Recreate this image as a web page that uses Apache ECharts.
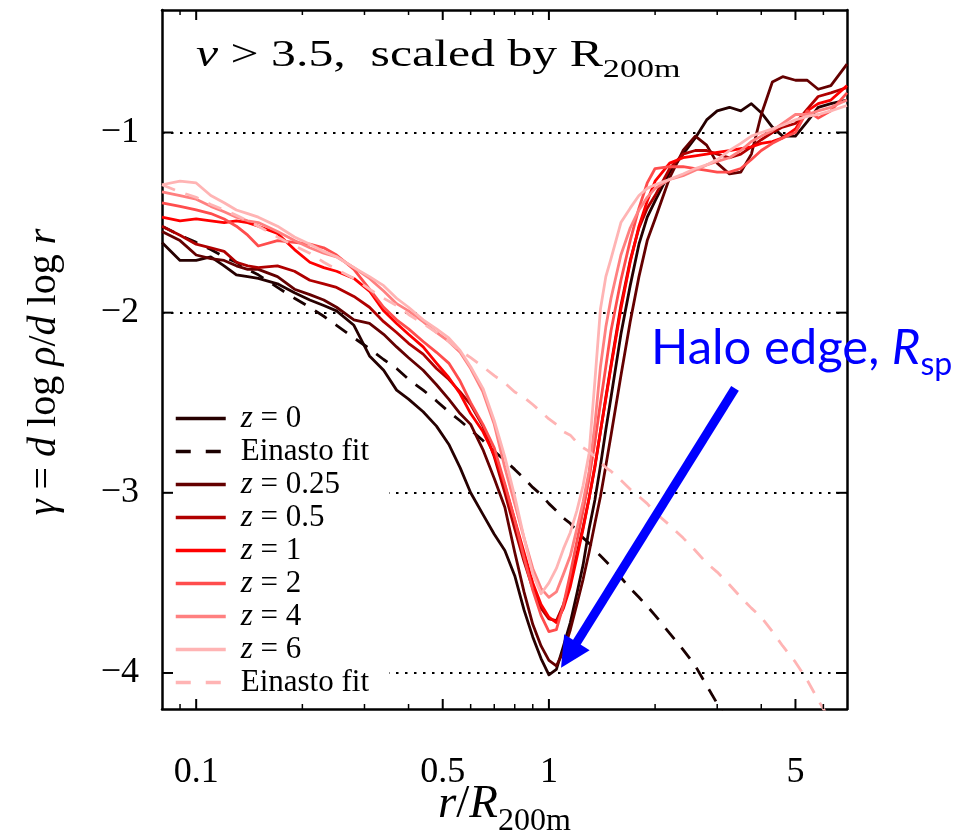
<!DOCTYPE html>
<html><head><meta charset="utf-8">
<script src="https://cdn.jsdelivr.net/npm/echarts@6/dist/echarts.min.js"></script>
<style>html,body{margin:0;padding:0;background:#fff}#c{width:961px;height:837px}</style>
</head><body><div id="c"></div>
<script>
// ---------- data ----------
const radius = [0.08,0.09,0.1,0.11,0.12,0.13,0.14,0.15,
 0.17,0.19,0.21,0.23,0.25,
 0.28,0.31,0.34,0.37,0.4,
 0.44,0.48,0.52,0.56,0.6,
 0.65,0.7,0.75,0.8,0.85,
 0.9,0.95,1.0,1.05,1.1,
 1.15,1.2,1.25,1.3,1.35,
 1.4,1.45,1.5,1.6,1.7,
 1.8,1.9,2.0,2.2,2.4,
 2.6,2.8,3.0,3.25,3.5,
 3.75,4.0,4.3,4.6,5.0,
 5.4,5.8,6.3,7.0];

const gammaZ0 = [-1.61,-1.71,-1.71,-1.69,-1.74,-1.79,-1.80,-1.81,
 -1.84,-1.89,-1.93,-1.96,-1.99,
 -2.07,-2.24,-2.32,-2.43,-2.48,
 -2.55,-2.63,-2.73,-2.86,-3.00,
 -3.12,-3.23,-3.32,-3.46,-3.65,
 -3.80,-3.92,-4.01,-3.98,-3.85,
 -3.72,-3.56,-3.40,-3.20,-3.04,
 -2.85,-2.65,-2.47,-2.12,-1.85,
 -1.62,-1.47,-1.38,-1.22,-1.12,
 -1.03,-0.93,-0.88,-0.86,-0.88,
 -0.84,-0.89,-0.97,-1.02,-1.02,
 -0.94,-0.86,-0.84,-0.82];

const einastoZ0 = [-1.52,-1.57,-1.61,-1.65,-1.69,-1.72,-1.76,-1.79,
 -1.86,-1.92,-1.97,-2.02,-2.07,
 -2.14,-2.20,-2.26,-2.31,-2.37,
 -2.43,-2.49,-2.55,-2.60,-2.65,
 -2.71,-2.77,-2.82,-2.87,-2.92,
 -2.97,-3.01,-3.06,-3.10,-3.14,
 -3.17,-3.21,-3.25,-3.28,-3.32,
 -3.35,-3.38,-3.41,-3.47,-3.53,
 -3.58,-3.63,-3.68,-3.78,-3.87,
 -3.96,-4.07,-4.17,-4.29,null,
 null,null,null,null,null,
 null,null,null,null];

const gammaZ025 = [-1.55,-1.60,-1.68,-1.70,-1.71,-1.74,-1.76,-1.76,
 -1.80,-1.87,-1.90,-1.93,-1.97,
 -2.04,-2.06,-2.12,-2.19,-2.25,
 -2.32,-2.40,-2.48,-2.56,-2.62,
 -2.76,-2.92,-3.08,-3.33,-3.55,
 -3.73,-3.85,-3.93,-3.96,-3.88,
 -3.76,-3.62,-3.48,-3.33,-3.17,
 -3.02,-2.85,-2.68,-2.35,-2.05,
 -1.80,-1.60,-1.48,-1.25,-1.10,
 -1.02,-1.07,-1.17,-1.23,-1.22,
 -1.12,-0.90,-0.72,-0.69,-0.71,
 -0.71,-0.76,-0.74,-0.62];

const gammaZ05 = [-1.52,-1.57,-1.62,-1.64,-1.66,-1.72,-1.74,-1.75,
 -1.74,-1.77,-1.82,-1.84,-1.86,
 -1.91,-1.97,-2.05,-2.11,-2.17,
 -2.23,-2.31,-2.37,-2.44,-2.51,
 -2.63,-2.80,-3.00,-3.20,-3.38,
 -3.53,-3.64,-3.70,-3.71,-3.62,
 -3.49,-3.34,-3.19,-3.03,-2.86,
 -2.66,-2.47,-2.29,-1.96,-1.71,
 -1.53,-1.42,-1.35,-1.20,-1.12,
 -1.10,-1.10,-1.12,-1.14,-1.12,
 -1.08,-1.04,-1.00,-0.97,-0.95,
 -0.87,-0.80,-0.78,-0.75];

const gammaZ1 = [-1.47,-1.49,-1.48,-1.49,-1.50,-1.49,-1.50,-1.52,
 -1.56,-1.65,-1.72,-1.75,-1.77,
 -1.81,-1.88,-1.99,-2.06,-2.12,
 -2.19,-2.28,-2.36,-2.45,-2.56,
 -2.66,-2.79,-2.96,-3.15,-3.33,
 -3.50,-3.62,-3.69,-3.72,-3.64,
 -3.52,-3.36,-3.20,-3.03,-2.85,
 -2.66,-2.48,-2.30,-1.98,-1.72,
 -1.52,-1.38,-1.27,-1.17,-1.14,
 -1.13,-1.12,-1.11,-1.10,-1.09,
 -1.08,-1.06,-1.05,-1.03,-0.98,
 -0.88,-0.84,-0.82,-0.74];

const gammaZ2 = [-1.39,-1.41,-1.43,-1.45,-1.48,-1.52,-1.57,-1.63,
 -1.60,-1.61,-1.62,-1.64,-1.68,
 -1.76,-1.87,-1.97,-2.04,-2.09,
 -2.16,-2.22,-2.28,-2.38,-2.50,
 -2.62,-2.75,-2.95,-3.15,-3.36,
 -3.54,-3.68,-3.77,-3.76,-3.62,
 -3.45,-3.27,-3.10,-2.92,-2.72,
 -2.50,-2.30,-2.10,-1.82,-1.60,
 -1.42,-1.28,-1.20,-1.19,-1.19,
 -1.20,-1.21,-1.22,-1.22,-1.20,
 -1.15,-1.10,-1.06,-1.03,-1.00,
 -0.88,-0.92,-0.88,-0.78];

const gammaZ4 = [-1.33,-1.35,-1.37,-1.41,-1.44,-1.47,-1.49,-1.50,
 -1.55,-1.60,-1.64,-1.67,-1.69,
 -1.75,-1.81,-1.88,-1.95,-1.99,
 -2.05,-2.11,-2.16,-2.22,-2.31,
 -2.44,-2.62,-2.86,-3.06,-3.25,
 -3.42,-3.53,-3.58,-3.55,-3.45,
 -3.35,-3.20,-3.05,-2.88,-2.62,
 -2.30,-2.08,-1.92,-1.68,-1.53,
 -1.43,-1.36,-1.31,-1.26,-1.24,
 -1.21,-1.18,-1.16,-1.14,-1.10,
 -1.05,-1.02,-0.99,-0.95,-0.90,
 -0.90,-0.88,-0.86,-0.82];

const gammaZ6 = [-1.29,-1.27,-1.28,-1.35,-1.39,-1.43,-1.45,-1.47,
 -1.52,-1.58,-1.62,-1.66,-1.69,
 -1.75,-1.80,-1.85,-1.92,-1.97,
 -2.04,-2.09,-2.14,-2.21,-2.30,
 -2.42,-2.60,-2.80,-3.02,-3.25,
 -3.45,-3.56,-3.50,-3.42,-3.31,
 -3.22,-3.10,-2.96,-2.78,-2.38,
 -1.98,-1.80,-1.70,-1.50,-1.42,
 -1.35,-1.31,-1.29,-1.26,-1.23,
 -1.20,-1.18,-1.15,-1.10,-1.06,
 -1.02,-1.00,-0.98,-0.96,-0.93,
 -0.91,-0.90,-0.88,-0.85];

const einastoZ6 = [-1.29,-1.33,-1.36,-1.40,-1.43,-1.46,-1.49,-1.52,
 -1.58,-1.63,-1.67,-1.72,-1.76,
 -1.81,-1.87,-1.92,-1.96,-2.01,
 -2.06,-2.11,-2.16,-2.21,-2.25,
 -2.30,-2.35,-2.39,-2.44,-2.47,
 -2.51,-2.55,-2.59,-2.62,-2.66,
 -2.68,-2.72,-2.75,-2.77,-2.80,
 -2.83,-2.86,-2.88,-2.93,-2.98,
 -3.02,-3.06,-3.11,-3.18,-3.25,
 -3.32,-3.39,-3.44,-3.51,-3.58,
 -3.64,-3.69,-3.77,-3.85,-3.94,
 -4.04,-4.15,-4.27,-4.42];

const xRange = [0.08, 7];
const yRange = [-4.2, -0.32];
const xMajorTicks = [0.1, 0.5, 1, 5];
const xTickLabels = ['0.1', '0.5', '1', '5'];
const xMinorTicks = [0.09, 0.2, 0.3, 0.4, 0.6, 0.7, 0.8, 0.9, 2, 3, 4, 6];
const yTicks = [-4, -3, -2, -1];
const yTickLabels = ['\u22124', '\u22123', '\u22122', '\u22121'];
const arrowFrom = [3.37, -2.42];
const arrowTo = [1.14, -3.90];

// ---------- styling ----------
const SERIF = 'Liberation Serif';
const seriesDefs = [
  {name: 'z0',   label: '{i|z} = 0',    values: gammaZ0,   color: '#260000'},
  {name: 'fit0', label: 'Einasto fit',  values: einastoZ0, color: '#1a0000', dash: [14, 11]},
  {name: 'z025', label: '{i|z} = 0.25', values: gammaZ025, color: '#640000'},
  {name: 'z05',  label: '{i|z} = 0.5',  values: gammaZ05,  color: '#b00000'},
  {name: 'z1',   label: '{i|z} = 1',    values: gammaZ1,   color: '#ff0000'},
  {name: 'z2',   label: '{i|z} = 2',    values: gammaZ2,   color: '#ff4d4d'},
  {name: 'z4',   label: '{i|z} = 4',    values: gammaZ4,   color: '#ff8080'},
  {name: 'z6',   label: '{i|z} = 6',    values: gammaZ6,   color: '#ffb4b4'},
  {name: 'fit6', label: 'Einasto fit',  values: einastoZ6, color: '#ffb4b4', dash: [14, 11]}
];
const labelOf = {};
seriesDefs.forEach(s => { labelOf[s.name] = s.label; });

const lg = Math.log10;
function pick(list, labels, v) {
  let best = 0, d = Infinity;
  list.forEach((t, i) => { const dd = Math.abs(t - v); if (dd < d) { d = dd; best = i; } });
  return labels[best];
}

const series = seriesDefs.map((s, k) => ({
  name: s.name,
  type: 'line',
  xAxisIndex: 0, yAxisIndex: 0,
  data: radius.map((r, i) => [r, s.values[i]]),
  symbol: 'none',
  showSymbol: false,
  connectNulls: false,
  clip: true,
  silent: true,
  animation: false,
  z: 2 + k * 0.01,
  lineStyle: {color: s.color, width: 2.8, type: s.dash || 'solid', cap: 'butt', join: 'round'},
  itemStyle: {color: s.color}
}));

// annotation arrow (blue)
series.push({
  name: 'arrow', type: 'line', xAxisIndex: 0, yAxisIndex: 0, data: [],
  silent: true, animation: false, z: 5,
  markLine: {
    silent: true, animation: false,
    symbol: ['none', 'triangle'], symbolSize: 30,
    label: {show: false},
    lineStyle: {color: '#0000ff', width: 9, type: 'solid', opacity: 1},
    emphasis: {disabled: true},
    data: [[{coord: arrowFrom, symbol: 'none'}, {coord: arrowTo, symbol: 'triangle'}]]
  }
});

// inward ticks on all four sides, placed through the axes' own scales
function xTickSeries(name, ticks, len, width) {
  return {
    name: name, type: 'custom', xAxisIndex: 0, yAxisIndex: 0, silent: true, animation: false, clip: false, z: 6,
    data: ticks.map(v => [v, yRange[0]]),
    encode: {x: 0, y: 1},
    renderItem: (params, api) => {
      const v = api.value(0);
      const b = api.coord([v, yRange[0]]);
      const t = api.coord([v, yRange[1]]);
      const st = {stroke: '#000', lineWidth: width};
      return {type: 'group', children: [
        {type: 'line', shape: {x1: b[0], y1: b[1], x2: b[0], y2: b[1] - len}, style: st},
        {type: 'line', shape: {x1: t[0], y1: t[1], x2: t[0], y2: t[1] + len}, style: st}
      ]};
    }
  };
}
series.push(xTickSeries('xmajor', xMajorTicks, 10, 2));
series.push(xTickSeries('xminor', xMinorTicks, 5, 1.5));
series.push({
  name: 'ymajor', type: 'custom', xAxisIndex: 0, yAxisIndex: 0, silent: true, animation: false, clip: false, z: 6,
  data: yTicks.map(v => [xRange[0], v]),
  encode: {x: 0, y: 1},
  renderItem: (params, api) => {
    const v = api.value(1);
    const l = api.coord([xRange[0], v]);
    const r = api.coord([xRange[1], v]);
    const st = {stroke: '#000', lineWidth: 2};
    return {type: 'group', children: [
      {type: 'line', shape: {x1: l[0], y1: l[1], x2: l[0] + 11, y2: l[1]}, style: st},
      {type: 'line', shape: {x1: r[0], y1: r[1], x2: r[0] - 11, y2: r[1]}, style: st}
    ]};
  }
});

const tickFont = {fontFamily: SERIF, fontSize: 36, color: '#000'};
const xMin = lg(xRange[0]), xMax = lg(xRange[1]);

const legendData = seriesDefs.map(s => s.dash
  ? {name: s.name, lineStyle: {type: [15, 15], width: 3.5}}
  : {name: s.name});

const option = {
  backgroundColor: '#fff',
  animation: false,
  grid: {left: 162, right: 114, top: 10, bottom: 128, containLabel: false, outerBoundsMode: 'none'},
  xAxis: [
    {type: 'log', logBase: 10, min: xRange[0], max: xRange[1], position: 'bottom',
     axisLine: {show: true, onZero: false, lineStyle: {color: '#000', width: 2.5}},
     axisTick: {show: false}, minorTick: {show: false}, axisLabel: {show: false}, splitLine: {show: false},
     name: '{i|r}{n|/}{i|R}{s|200m}', nameLocation: 'middle', nameGap: 72,
     nameTextStyle: {color: '#000', fontFamily: SERIF, fontSize: 46, rich: {
       i: {fontFamily: SERIF, fontSize: 47, fontStyle: 'italic', color: '#000', verticalAlign: 'bottom', padding: [0, 0, 10, 0]},
       n: {fontFamily: SERIF, fontSize: 47, color: '#000', verticalAlign: 'bottom', padding: [0, 0, 10, 0]},
       s: {fontFamily: SERIF, fontSize: 32, color: '#000', verticalAlign: 'bottom'}
     }}},
    {type: 'value', min: xMin, max: xMax, position: 'bottom',
     axisLine: {show: false, onZero: false},
     axisTick: {show: false},
     axisLabel: {show: true, customValues: xMajorTicks.map(lg), margin: 46, formatter: v => pick(xMajorTicks.map(lg), xTickLabels, v), ...tickFont},
     splitLine: {show: false}},
    {type: 'value', min: xMin, max: xMax, position: 'top',
     axisLine: {show: true, onZero: false, lineStyle: {color: '#000', width: 2.5}},
     axisTick: {show: false}, axisLabel: {show: false}, splitLine: {show: false}}
  ],
  yAxis: [
    {type: 'value', min: yRange[0], max: yRange[1], position: 'left',
     axisLine: {show: true, onZero: false, lineStyle: {color: '#000', width: 2.5}},
     axisTick: {show: false, customValues: yTicks},
     axisLabel: {show: true, customValues: yTicks, margin: 23, formatter: v => pick(yTicks, yTickLabels, v), ...tickFont},
     splitLine: {show: true, lineStyle: {color: '#000', width: 1.8, type: [2.5, 6.5]}}},
    {type: 'value', min: yRange[0], max: yRange[1], position: 'right',
     axisLine: {show: true, onZero: false, lineStyle: {color: '#000', width: 2.5}},
     axisTick: {show: false}, axisLabel: {show: false}, splitLine: {show: false}}
  ],
  legend: {
    data: legendData,
    orient: 'vertical', left: 164, top: 397,
    padding: [6, 20, 4, 10], itemGap: 2, itemWidth: 50, itemHeight: 12,
    backgroundColor: '#fff', borderWidth: 0, selectedMode: false,
    formatter: name => labelOf[name],
    itemStyle: {opacity: 0},
    lineStyle: {width: 3.5},
    textStyle: {fontFamily: SERIF, fontSize: 31, lineHeight: 31, color: '#000', padding: [0, 0, 0, 10],
      rich: {i: {fontFamily: SERIF, fontSize: 31, fontStyle: 'italic', color: '#000'}}}
  },
  graphic: [
    {type: 'text', x: 196, y: 37, scaleX: 1.31, silent: true, z: 10,
     style: {text: '{m|\u03bd}{r| > 3.5,  scaled by R}{s|200m}', fill: '#000', align: 'left', verticalAlign: 'top',
       rich: {
         m: {fontFamily: SERIF, fontSize: 38, fontStyle: 'italic', fill: '#000', verticalAlign: 'bottom', padding: [0, 0, 8, 0]},
         r: {fontFamily: SERIF, fontSize: 38, fill: '#000', verticalAlign: 'bottom', padding: [0, 0, 8, 0]},
         s: {fontFamily: SERIF, fontSize: 26, fill: '#000', verticalAlign: 'bottom'}
       }}},
    {type: 'text', x: 44, y: 372, rotation: Math.PI / 2, silent: true, z: 10,
     style: {text: '{i|\u03b3}{n| = }{i|d}{n| log }{i|\u03c1}{n|/}{i|d}{n| log }{i|r}', fill: '#000', align: 'center', verticalAlign: 'middle',
       rich: {
         i: {fontFamily: SERIF, fontSize: 40, fontStyle: 'italic', fill: '#000'},
         n: {fontFamily: SERIF, fontSize: 40, fill: '#000'}
       }}},
    {type: 'text', left: 651, top: 324, silent: true, z: 10,
     style: {text: '{a|Halo edge, }{b|R}{s|sp}', fill: '#0000ff',
       rich: {
         a: {fontFamily: 'Lato', fontSize: 49, fill: '#0000ff', verticalAlign: 'bottom', padding: [0, 0, 8, 0]},
         b: {fontFamily: 'Lato', fontSize: 49, fontStyle: 'italic', fill: '#0000ff', verticalAlign: 'bottom', padding: [0, 0, 8, 0]},
         s: {fontFamily: 'Lato', fontSize: 32, fill: '#0000ff', verticalAlign: 'bottom'}
       }}}
  ],
  series: series
};

const chart = echarts.init(document.getElementById('c'), null, {renderer: 'canvas', width: 961, height: 837});
chart.setOption(option);
</script>
</body></html>
